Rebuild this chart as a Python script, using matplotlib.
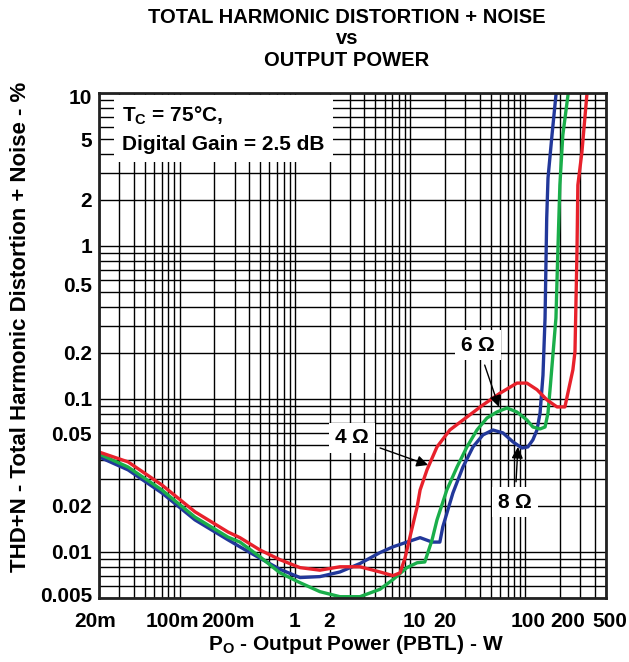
import matplotlib
matplotlib.use("Agg")
import matplotlib.pyplot as plt
from matplotlib.ticker import FixedLocator, FixedFormatter, LogLocator, NullFormatter
from matplotlib.transforms import ScaledTranslation

plt.rcParams['font.family'] = ['Liberation Sans', 'DejaVu Sans']
plt.rcParams['font.weight'] = 'bold'
plt.rcParams['mathtext.fontset'] = 'custom'
plt.rcParams['mathtext.rm'] = 'Liberation Sans'
plt.rcParams['mathtext.bf'] = 'Liberation Sans:bold'

# ---- data ----
x_4ohm = [0.02, 0.0357, 0.0703, 0.136, 0.263, 0.334, 0.498, 0.743, 1.107, 1.65, 2.46, 3.67,
          5.47, 7.10, 8.17, 9.02, 9.96, 11.5, 12.2, 14.0, 17.1, 22.1, 31.1, 42.8, 60.1, 84.4,
          103, 126, 154, 188, 220, 258, 269, 280, 285, 309, 341, 360]
y_4ohm = [0.045, 0.0388, 0.0274, 0.0183, 0.0135, 0.0124, 0.0103, 0.0089, 0.0079, 0.0076, 0.0080, 0.0080,
          0.0074, 0.0070, 0.0073, 0.0091, 0.0125, 0.0197, 0.0254, 0.0344, 0.0486, 0.0627, 0.0762, 0.0914,
          0.109, 0.127, 0.127, 0.115, 0.0985, 0.0887, 0.0887, 0.155, 0.203, 0.91, 2.5, 4.1, 9.7, 13]

x_6ohm = [0.02, 0.0357, 0.0703, 0.136, 0.263, 0.334, 0.498, 0.743, 1.107, 1.65, 2.46, 3.67,
          5.47, 7.10, 9.38, 11.5, 13.4, 15.5, 17.1, 20.8, 25.5, 31.1, 38.0, 46.4, 56.6, 69.2,
          84.4, 103, 116, 134, 148, 157, 165, 184, 191, 199, 211, 234, 245]
y_6ohm = [0.0437, 0.0359, 0.0254, 0.0169, 0.0125, 0.0116, 0.0093, 0.0073, 0.0063, 0.0055, 0.0051, 0.0051,
          0.0057, 0.0066, 0.0079, 0.0085, 0.0086, 0.012, 0.0162, 0.0254, 0.0359, 0.0486, 0.0627, 0.0751,
          0.0822, 0.0873, 0.0822, 0.0729, 0.0656, 0.0637, 0.0656, 0.081, 0.125, 0.338, 0.91, 2.5, 5.3, 9.7, 13]

x_8ohm = [0.02, 0.0357, 0.0703, 0.136, 0.263, 0.334, 0.498, 0.743, 1.107, 1.65, 2.46, 3.67,
          5.47, 7.10, 9.38, 12.2, 15.5, 18.1, 19.2, 23.5, 28.7, 35.1, 42.8, 52.2, 63.8, 78.0,
          93.3, 105, 116, 126, 134, 142, 148, 153, 157, 170, 184, 190]
y_8ohm = [0.0418, 0.0344, 0.0243, 0.0162, 0.0120, 0.0108, 0.0091, 0.0077, 0.0068, 0.0069, 0.0074, 0.0084,
          0.0099, 0.0108, 0.0116, 0.0124, 0.0116, 0.0116, 0.0146, 0.0243, 0.0359, 0.0486, 0.0582, 0.0627,
          0.060, 0.0524, 0.0478, 0.0486, 0.054, 0.0627, 0.081, 0.143, 0.338, 1.52, 2.78, 5.3, 9.7, 13]

x_ticks = [0.02, 0.1, 0.2, 1, 2, 10, 20, 100, 200, 500]
x_labels = ['20m', '100m', '200m', '1', '2', '10', '20', '100', '200', '500']
y_ticks = [0.005, 0.01, 0.02, 0.05, 0.1, 0.2, 0.5, 1, 2, 5, 10]
y_labels = ['0.005', '0.01', '0.02', '0.05', '0.1', '0.2', '0.5', '1', '2', '5', '10']

RED = '#e8212b'
GREEN = '#1aae4a'
BLUE = '#22389a'

fig = plt.figure(figsize=(6.29, 6.62), dpi=100)
ax = fig.add_axes([99/629, 1-598/662, 507/629, 505/662])
ax.set_xscale('log')
ax.set_yscale('log')
ax.set_xlim(0.02, 500)
ax.set_ylim(0.005, 10)

ax.plot(x_8ohm, y_8ohm, color=BLUE, lw=2.4, zorder=3, solid_joinstyle='round')
ax.plot(x_6ohm, y_6ohm, color=GREEN, lw=2.4, zorder=4, solid_joinstyle='round')
ax.plot(x_4ohm, y_4ohm, color=RED, lw=2.4, zorder=5, solid_joinstyle='round')

ax.xaxis.set_major_locator(FixedLocator(x_ticks))
ax.xaxis.set_major_formatter(FixedFormatter(x_labels))
ax.yaxis.set_major_locator(FixedLocator(y_ticks))
ax.yaxis.set_major_formatter(FixedFormatter(y_labels))
ax.xaxis.set_minor_locator(LogLocator(base=10, subs=range(1, 10), numticks=50))
ax.yaxis.set_minor_locator(LogLocator(base=10, subs=range(1, 10), numticks=50))
ax.xaxis.set_minor_formatter(NullFormatter())
ax.yaxis.set_minor_formatter(NullFormatter())
ax.grid(True, which='both', color='black', lw=1.0, zorder=1)
ax.set_axisbelow(True)
ax.tick_params(which='both', length=0, labelsize=15)
ax.tick_params(axis='x', pad=10)
ax.tick_params(axis='y', pad=5)
for sp in ax.spines.values():
    sp.set_linewidth(2.0)
    sp.set_color('#222222')
    sp.set_zorder(6)

# nudge tick labels as placed in the reference (pixel offsets)
fig.canvas.draw()
x_shift = {'20m': -4, '100m': -7, '200m': 14, '10': 4, '100': 3, '200': 8, '500': 4}
y_shift = {'10': -4, '0.5': 8, '0.05': 12, '0.005': 4}
for lab in ax.get_xticklabels():
    lab.set_fontweight('bold')
    d = x_shift.get(lab.get_text(), 0)
    if d:
        lab.set_transform(lab.get_transform() + ScaledTranslation(d/100, 0, fig.dpi_scale_trans))
for lab in ax.get_yticklabels():
    lab.set_fontweight('bold')
    d = y_shift.get(lab.get_text(), 0)
    if d:
        lab.set_transform(lab.get_transform() + ScaledTranslation(0, d/100, fig.dpi_scale_trans))

# condition box
ax.text(0.0317, 5.8, 'T$_\\mathbf{C}$ = 75°C,\nDigital Gain = 2.5 dB', fontsize=15, fontweight='bold',
        ha='left', va='center', linespacing=1.5, zorder=7,
        bbox=dict(boxstyle='square,pad=0.4', facecolor='white', edgecolor='none'))

arrow = dict(arrowstyle='-|>', color='black', lw=1.0, mutation_scale=17, shrinkA=4, shrinkB=0)
box = dict(boxstyle='square,pad=0.25', facecolor='white', edgecolor='none')
ax.annotate('4 $\\mathrm{\\Omega}$', xy=(14.3, 0.037), xytext=(3.13, 0.0556), fontsize=15, fontweight='bold',
            ha='center', va='center', arrowprops=arrow, bbox=box, zorder=8)
ax.annotate('6 $\\mathrm{\\Omega}$', xy=(58.9, 0.0887), xytext=(38.7, 0.225), fontsize=15, fontweight='bold',
            ha='center', va='center', arrowprops=arrow, bbox=box, zorder=8)
ax.annotate('8 $\\mathrm{\\Omega}$', xy=(86.1, 0.0486), xytext=(81.1, 0.0212), fontsize=15, fontweight='bold',
            ha='center', va='center', arrowprops=arrow, bbox=box, zorder=8)

fig.text(347/629, 1-39/662, 'TOTAL HARMONIC DISTORTION + NOISE\nvs\nOUTPUT POWER',
         ha='center', va='center', fontsize=14.5, fontweight='bold', linespacing=1.15)
fig.text(21/629, 1-327/662, 'THD+N - Total Harmonic Distortion + Noise - %', rotation=90,
         ha='center', va='center', fontsize=16, fontweight='bold')
fig.text(356/629, 1-645/662, 'P$_\\mathbf{O}$ - Output Power (PBTL) - W',
         ha='center', va='center', fontsize=15, fontweight='bold')

fig.savefig('out.png', dpi=100)
